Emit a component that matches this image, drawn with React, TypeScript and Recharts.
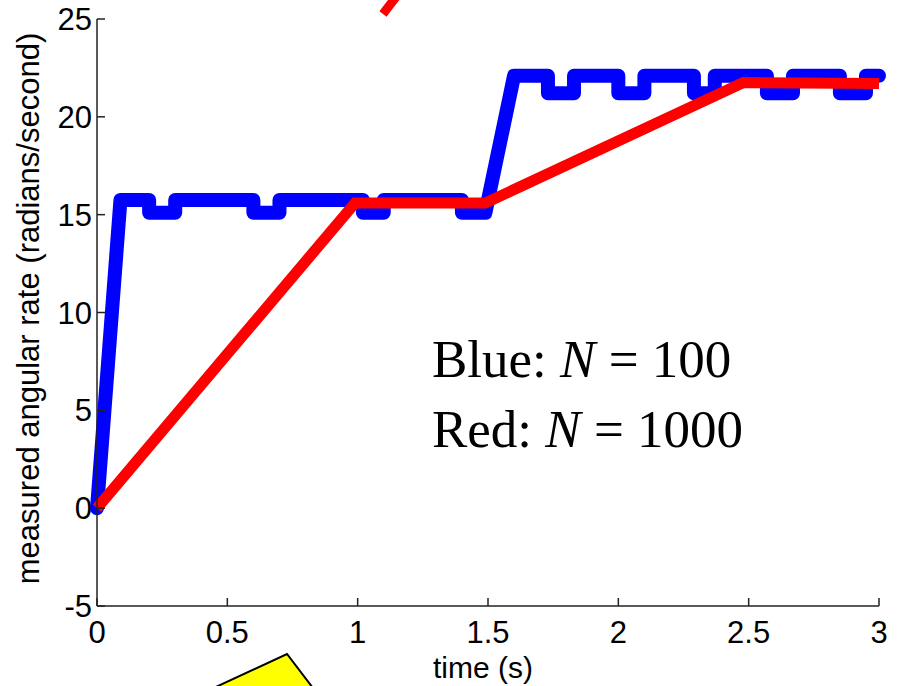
import React from "react";
import { LineChart, Line, XAxis, YAxis } from "recharts";

// values
const xTicks = [0, 0.5, 1, 1.5, 2, 2.5, 3];
const yTicks = [-5, 0, 5, 10, 15, 20, 25];

const blueTime = [
  0, 0.09, 0.2, 0.2, 0.3, 0.3, 0.6, 0.6, 0.7, 0.7, 1.02, 1.02, 1.1, 1.1, 1.4, 1.4, 1.49,
  1.6, 1.73, 1.73, 1.83, 1.83, 2.0, 2.0, 2.1, 2.1, 2.29, 2.29, 2.37, 2.37, 2.57, 2.57, 2.67, 2.67,
  2.85, 2.85, 2.95, 2.95, 3.0,
];
const blueRate = [
  0, 15.75, 15.75, 15.1, 15.1, 15.75, 15.75, 15.1, 15.1, 15.75, 15.75, 15.1, 15.1, 15.75, 15.75, 15.1, 15.1,
  22.1, 22.1, 21.2, 21.2, 22.1, 22.1, 21.2, 21.2, 22.1, 22.1, 21.2, 21.2, 22.1, 22.1, 21.2, 21.2, 22.1,
  22.1, 21.2, 21.2, 22.1, 22.1,
];

const redTime = [0, 0.99, 1.49, 2.48, 3.0];
const redRate = [0, 15.6, 15.6, 21.75, 21.7];

const blueData = blueTime.map((t, i) => ({ t, v: blueRate[i] }));
const redData = redTime.map((t, i) => ({ t, v: redRate[i] }));

const FONT = "Liberation Sans, Arial, sans-serif";
const TICK_LEN = 8;

// inward MATLAB-style ticks; tickSize/tickMargin are 0 so (x, y) is the point on the axis line
const BottomTick = (p: any) => (
  <g>
    <line x1={p.x} y1={p.y} x2={p.x} y2={p.y - TICK_LEN} stroke="#222" strokeWidth={1.5} />
    <text x={p.x} y={p.y + 37} textAnchor="middle" fontSize={31} fill="#000" fontFamily={FONT}>
      {p.payload.value}
    </text>
  </g>
);
const LeftTick = (p: any) => (
  <g>
    <line x1={p.x} y1={p.y} x2={p.x + TICK_LEN} y2={p.y} stroke="#222" strokeWidth={1.5} />
    <text x={p.x - 5} y={p.y + 11} textAnchor="end" fontSize={31} fill="#000" fontFamily={FONT}>
      {p.payload.value}
    </text>
  </g>
);
const TopTick = (p: any) => (
  <line x1={p.x} y1={p.y} x2={p.x} y2={p.y + TICK_LEN} stroke="#222" strokeWidth={1.5} />
);
const RightTick = (p: any) => (
  <line x1={p.x} y1={p.y} x2={p.x - TICK_LEN} y2={p.y} stroke="#222" strokeWidth={1.5} />
);

const YLabel = (props: any) => {
  const vb = props.viewBox;
  const x = vb.x + 39;
  const y = vb.y + vb.height / 2 - 4;
  return (
    <text x={x} y={y} transform={`rotate(-90 ${x} ${y})`} textAnchor="middle" fontSize={31} fill="#000"
      fontFamily={FONT}>
      measured angular rate (radians/second)
    </text>
  );
};

const XLabel = (props: any) => {
  const vb = props.viewBox;
  return (
    <text x={vb.x + vb.width / 2 - 5} y={vb.y + 72} textAnchor="middle" fontSize={30} fill="#000"
      fontFamily={FONT}>
      time (s)
    </text>
  );
};

export default function App() {
  return (
    <div style={{ position: "absolute", left: 0, top: 0, width: 897, height: 686, background: "#fff" }}>
      <LineChart width={897} height={686} margin={{ top: 19, right: 18, left: 0, bottom: 0 }}>
        <XAxis dataKey="t" type="number" domain={[0, 3]} ticks={xTicks} interval={0} height={80}
          stroke="#222" strokeWidth={1.5} tickSize={0} tickMargin={0} tickLine={false} tick={BottomTick}
          label={{ content: XLabel }} />
        <XAxis xAxisId="top" orientation="top" dataKey="t" type="number" domain={[0, 3]} ticks={xTicks}
          interval={0} height={0} stroke="#222" strokeWidth={1.5} tickSize={0} tickMargin={0}
          tickLine={false} tick={TopTick} />
        <YAxis type="number" domain={[-5, 25]} ticks={yTicks} interval={0} width={97}
          stroke="#222" strokeWidth={1.5} tickSize={0} tickMargin={0} tickLine={false} tick={LeftTick}
          label={{ content: YLabel }} />
        <YAxis yAxisId="right" orientation="right" type="number" domain={[-5, 25]} ticks={yTicks}
          interval={0} width={0} stroke="#222" strokeWidth={1.5} tickSize={0} tickMargin={0}
          tickLine={false} tick={RightTick} />
        <Line data={blueData} dataKey="v" type="linear" stroke="#0000ff" strokeWidth={14}
          strokeLinejoin="round" strokeLinecap="round" dot={false} isAnimationActive={false} />
        <Line data={redData} dataKey="v" type="linear" stroke="#ff0000" strokeWidth={11}
          strokeLinejoin="miter" strokeLinecap="butt" dot={false} isAnimationActive={false} />
      </LineChart>
      <svg width={897} height={686} style={{ position: "absolute", left: 0, top: 0, pointerEvents: "none" }}>
        <path d="M 383 14 Q 389 6 396 -3" stroke="#ff0000" strokeWidth={9} fill="none" />
        <polygon points="205,692 287,654 316,692" fill="#ffff00" stroke="#000" strokeWidth={2} />
        <g fontFamily="Liberation Serif, Times New Roman, serif" fontSize={53} fill="#000">
          <text x={432} y={377}>
            Blue: <tspan fontStyle="italic">N</tspan> = 100
          </text>
          <text x={432} y={447}>
            Red: <tspan fontStyle="italic">N</tspan> = 1000
          </text>
        </g>
      </svg>
    </div>
  );
}
